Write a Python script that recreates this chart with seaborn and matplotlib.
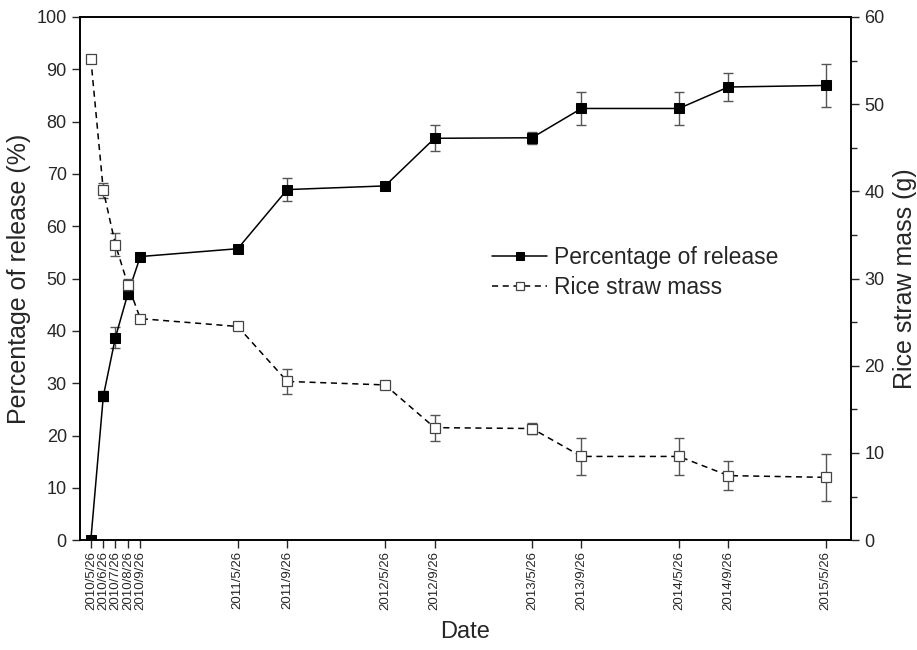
import matplotlib
matplotlib.use('Agg')
import matplotlib.pyplot as plt
import seaborn as sns
import pandas as pd
from matplotlib.ticker import MultipleLocator

# sampling dates and measured values
dates = ["2010-05-26", "2010-06-26", "2010-07-26", "2010-08-26", "2010-09-26",
         "2011-05-26", "2011-09-26", "2012-05-26", "2012-09-26", "2013-05-26",
         "2013-09-26", "2014-05-26", "2014-09-26", "2015-05-26"]
date_labels = ["2010/5/26", "2010/6/26", "2010/7/26", "2010/8/26", "2010/9/26",
               "2011/5/26", "2011/9/26", "2012/5/26", "2012/9/26", "2013/5/26",
               "2013/9/26", "2014/5/26", "2014/9/26", "2015/5/26"]
release_pct = [0.0, 27.5, 38.7, 47.1, 54.2, 55.7, 67.0, 67.7, 76.8, 76.9, 82.5, 82.5, 86.6, 86.9]
release_err = [0.2, 1.0, 2.0, 1.0, 0.5, 0.4, 2.2, 0.3, 2.5, 1.1, 3.2, 3.2, 2.7, 4.1]
mass_g = [55.2, 40.1, 33.9, 29.3, 25.4, 24.5, 18.2, 17.8, 12.9, 12.8, 9.6, 9.6, 7.4, 7.2]
mass_err = [0.3, 0.9, 1.3, 0.6, 0.2, 0.2, 1.4, 0.3, 1.5, 0.6, 2.1, 2.1, 1.7, 2.7]

sns.set_theme(style="ticks")
plt.rcParams['font.family'] = ['Liberation Sans', 'DejaVu Sans']

df = pd.DataFrame({
    "Date": pd.to_datetime(dates),
    "Release": release_pct,
    "ReleaseErr": release_err,
    "Mass": mass_g,
    "MassErr": mass_err,
})

fig = plt.figure(figsize=(9.17, 6.5), dpi=100)
ax = fig.add_axes([0.0872, 0.169, 0.841, 0.805])
ax2 = ax.twinx()

# error bars first, then lines + markers on top
ax.errorbar(df["Date"], df["Release"], yerr=df["ReleaseErr"], fmt="none",
            ecolor="#555555", elinewidth=1, capsize=3.5, capthick=1, zorder=2)
ax2.errorbar(df["Date"], df["Mass"], yerr=df["MassErr"], fmt="none",
             ecolor="#555555", elinewidth=1, capsize=3.5, capthick=1, zorder=2)

sns.lineplot(data=df, x="Date", y="Release", ax=ax, color="black", linewidth=1.1,
             marker="s", markersize=6.5, markerfacecolor="black", markeredgecolor="black",
             label="Percentage of release", legend=False, zorder=3)
sns.lineplot(data=df, x="Date", y="Mass", ax=ax2, color="black", linewidth=1.1,
             linestyle=(0, (4, 3)), marker="s", markersize=6.5, markerfacecolor="white",
             markeredgecolor="#444444", markeredgewidth=0.9,
             label="Rice straw mass", legend=False, zorder=3)

ax.set_xlim(pd.Timestamp("2010-04-29"), pd.Timestamp("2015-07-28"))
ax.set_ylim(0, 100)
ax2.set_ylim(0, 60)
ax.yaxis.set_major_locator(MultipleLocator(10))
ax2.yaxis.set_major_locator(MultipleLocator(10))
ax2.yaxis.set_minor_locator(MultipleLocator(5))

ax.set_xticks(df["Date"])
ax.set_xticklabels(date_labels, rotation=90, fontsize=9.5)

ax.tick_params(axis="y", labelsize=13, length=6, width=1, direction="out")
ax.tick_params(axis="x", length=6, width=1, direction="out", pad=2)
ax2.tick_params(axis="y", which="major", labelsize=13, length=6, width=1, direction="out")
ax2.tick_params(axis="y", which="minor", length=4, width=1, direction="out")

ax.set_xlabel("Date", fontsize=17, labelpad=8)
ax.set_ylabel("Percentage of release (%)", fontsize=18, labelpad=4)
ax2.set_ylabel("Rice straw mass (g)", fontsize=18, labelpad=6)

for a in (ax, ax2):
    for s in a.spines.values():
        s.set_color("black")
        s.set_linewidth(1.2)

h1, l1 = ax.get_legend_handles_labels()
h2, l2 = ax2.get_legend_handles_labels()
ax2.legend(h1 + h2, l1 + l2, loc="upper left", bbox_to_anchor=(0.508, 0.601),
           frameon=False, fontsize=16.5, handlelength=2.4, handletextpad=0.3,
           labelspacing=0.3, markerscale=0.8)

fig.savefig("out.png", dpi=100)
plt.close(fig)
